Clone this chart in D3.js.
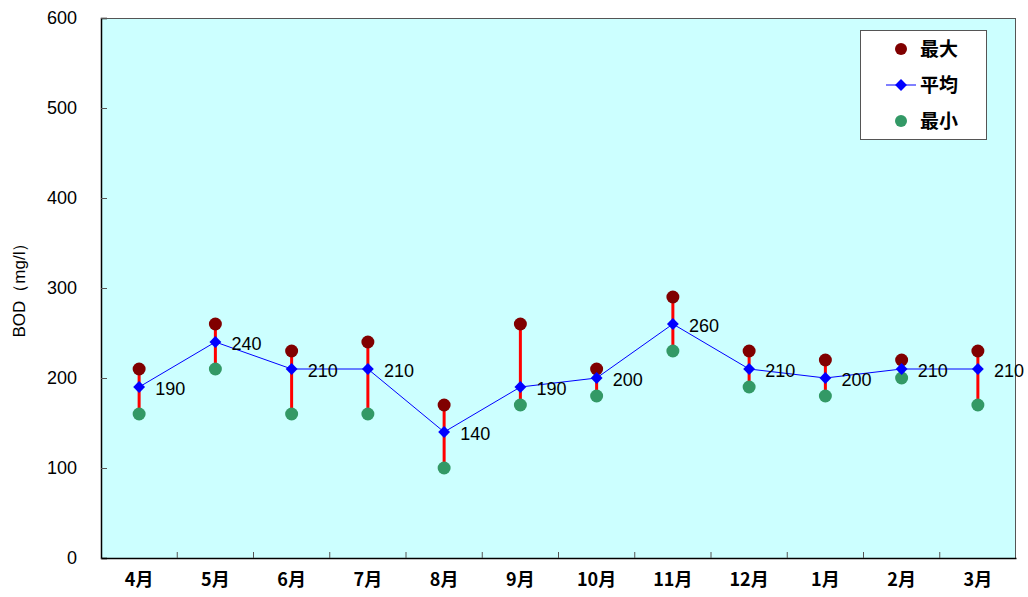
<!DOCTYPE html>
<html><head><meta charset="utf-8">
<script src="https://cdn.jsdelivr.net/npm/d3@7"></script>
<style>body{margin:0;background:#fff}svg{display:block}</style>
</head><body><svg id="c" width="1028" height="597"></svg>
<script>
const months = ["4月","5月","6月","7月","8月","9月","10月","11月","12月","1月","2月","3月"];
const maxVals = [210,260,230,240,170,260,210,290,230,220,220,230];
const avgVals = [190,240,210,210,140,190,200,260,210,200,210,210];
const minVals = [160,210,160,160,100,170,180,230,190,180,200,170];
const yTicks = [0,100,200,300,400,500,600];
const legendLabels = ["最大","平均","最小"];

const svg = d3.select("#c");
const L=101, R=1016, T=18, B=558;
const x = d3.scaleBand().domain(months).range([L,R]);
const y = d3.scaleLinear().domain([0,600]).range([B,T]);
const cx = m => x(m)+x.bandwidth()/2;
const font = "'Noto Sans CJK JP', sans-serif";
const numFont = "'Liberation Sans', Arial, sans-serif";

svg.append("rect").attr("x",L).attr("y",T).attr("width",R-L).attr("height",B-T).attr("fill","#CCFFFF");
svg.append("line").attr("x1",L).attr("x2",R).attr("y1",T+0.5).attr("y2",T+0.5).attr("stroke","#555");
svg.append("line").attr("x1",R-0.5).attr("x2",R-0.5).attr("y1",T).attr("y2",B).attr("stroke","#555");

// y axis
const ya = svg.append("g").attr("transform",`translate(${L},0)`)
  .call(d3.axisLeft(y).tickValues(yTicks).tickSize(-6).tickPadding(24));
ya.select(".domain").attr("stroke","#000").attr("stroke-width",1.5);
ya.selectAll(".tick line").attr("stroke","#555");
ya.selectAll("text").attr("font-family",numFont).attr("font-size",18).attr("fill","#000");

// x axis
const xa = svg.append("g").attr("transform",`translate(0,${B})`)
  .call(d3.axisBottom(x).tickSize(0).tickPadding(15));
xa.select(".domain").attr("stroke","#000").attr("stroke-width",1.5);
xa.selectAll("text").attr("font-family",font).attr("font-size",18).attr("font-weight","bold").attr("fill","#000");
svg.append("g").selectAll("line").data(months.slice(1)).join("line")
  .attr("x1",d=>x(d)).attr("x2",d=>x(d)).attr("y1",B).attr("y2",B-6).attr("stroke","#555");

svg.append("text").attr("transform",`translate(25,${286}) rotate(-90)`)
  .attr("text-anchor","middle").attr("font-family",numFont).attr("font-size",17).text("BOD（mg/l）");

// range lines
svg.append("g").selectAll("line").data(months).join("line")
  .attr("x1",cx).attr("x2",cx).attr("y1",(d,i)=>y(minVals[i])).attr("y2",(d,i)=>y(maxVals[i]))
  .attr("stroke","#FF0000").attr("stroke-width",3);
// avg line
svg.append("path").datum(avgVals).attr("fill","none").attr("stroke","#0000FF").attr("stroke-width",1)
  .attr("d",d3.line().x((d,i)=>cx(months[i])).y(d=>y(d)));
// max
svg.append("g").selectAll("circle").data(maxVals).join("circle")
  .attr("cx",(d,i)=>cx(months[i])).attr("cy",d=>y(d)).attr("r",6.5).attr("fill","#800000");
// min
svg.append("g").selectAll("circle").data(minVals).join("circle")
  .attr("cx",(d,i)=>cx(months[i])).attr("cy",d=>y(d)).attr("r",6.5).attr("fill","#339966");
// avg diamonds
const dia = d3.symbol().type(d3.symbolDiamond2).size(90);
svg.append("g").selectAll("path").data(avgVals).join("path")
  .attr("transform",(d,i)=>`translate(${cx(months[i])},${y(d)})`).attr("d",dia).attr("fill","#0000FF");
// labels
svg.append("g").selectAll("text").data(avgVals).join("text")
  .attr("x",(d,i)=>cx(months[i])+16).attr("y",d=>y(d)+8)
  .attr("font-family",numFont).attr("font-size",18).attr("fill","#000").text(d=>d);

// legend
const lg = svg.append("g");
lg.append("rect").attr("x",860.5).attr("y",30.5).attr("width",126).attr("height",109).attr("fill","#fff").attr("stroke","#555");
const ly = [49,85,121];
lg.append("circle").attr("cx",901).attr("cy",ly[0]).attr("r",6).attr("fill","#800000");
lg.append("line").attr("x1",886).attr("x2",916).attr("y1",ly[1]).attr("y2",ly[1]).attr("stroke","#0000FF");
lg.append("path").attr("transform",`translate(901,${ly[1]})`).attr("d",dia).attr("fill","#0000FF");
lg.append("circle").attr("cx",901).attr("cy",ly[2]).attr("r",6).attr("fill","#339966");
lg.selectAll("text").data(legendLabels).join("text")
  .attr("x",920).attr("y",(d,i)=>ly[i]+7).attr("font-family",font).attr("font-size",19).attr("font-weight","bold").attr("fill","#000").text(d=>d);
</script></body></html>
